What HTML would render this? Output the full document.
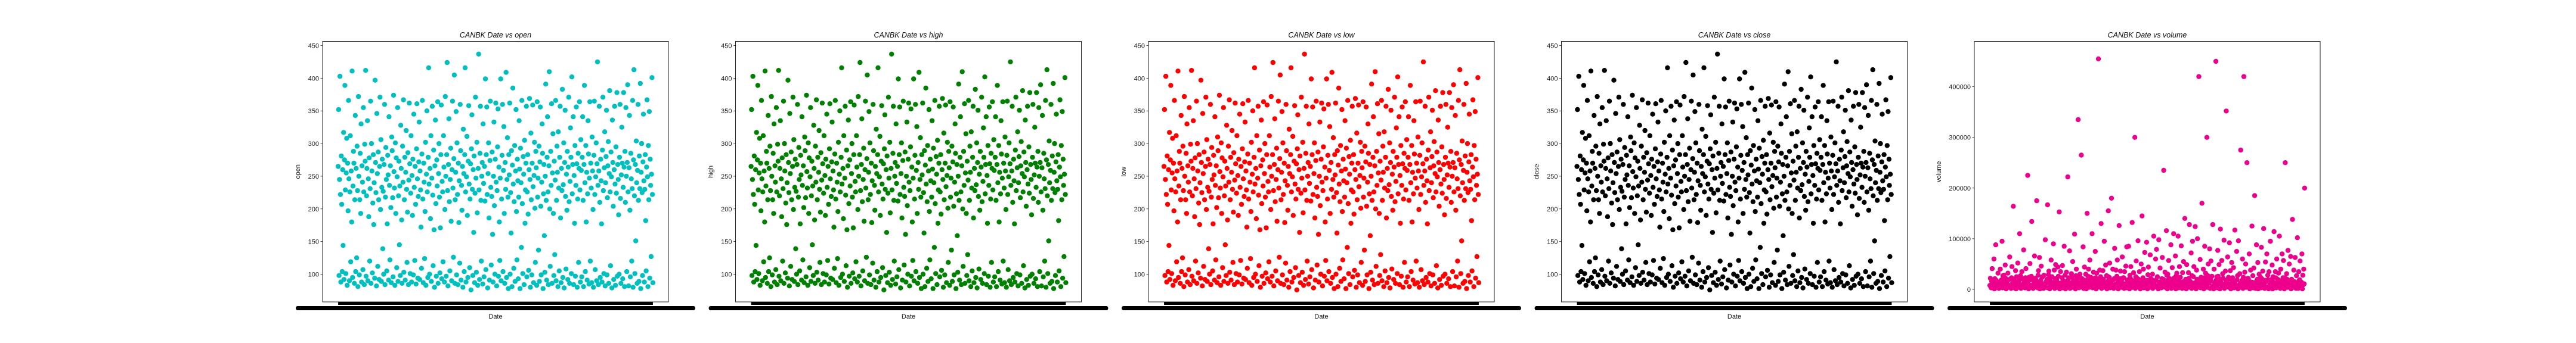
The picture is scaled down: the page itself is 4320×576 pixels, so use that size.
<!DOCTYPE html>
<html><head><meta charset="utf-8"><style>
html,body{margin:0;padding:0;background:#fff;}
svg{display:block;font-family:"Liberation Sans","DejaVu Sans",sans-serif;}
</style></head><body>
<svg id="fig" width="4320" height="576" viewBox="0 0 4320 576" xmlns="http://www.w3.org/2000/svg"></svg>
<script>
// Price values (shared shape across open/high/low/close panels)
const openVals=[265,352,98,245,403,222,88,281,207,104,260,144,317,92,275,389,229,101,255,308,
83,270,197,366,246,90,226,312,119,258,180,411,95,235,288,270,86,214,343,104,
262,125,296,228,81,372,250,99,214,285,193,330,88,266,241,107,355,226,84,299,
273,412,97,220,262,335,90,246,188,278,120,231,365,86,300,258,102,209,283,176,
240,94,397,271,225,82,346,254,112,287,214,92,265,371,199,306,89,233,276,139,
227,100,268,360,84,218,294,245,105,177,282,252,91,341,236,122,266,202,87,310,
289,217,96,374,257,232,83,301,193,278,110,249,355,89,220,273,145,235,98,328,
262,183,86,296,241,367,103,214,279,91,256,320,230,118,195,286,84,244,362,269,
101,224,312,88,251,190,276,99,345,233,121,265,207,85,292,361,246,94,219,272,
333,92,258,229,172,109,284,366,215,87,270,241,124,196,302,83,253,350,226,95,
279,416,238,100,262,185,312,89,247,357,221,113,290,168,80,266,336,208,97,275,
235,364,86,254,300,218,102,171,283,359,93,242,226,119,312,264,88,199,372,250,
97,283,424,228,82,268,338,211,105,245,293,181,90,260,365,232,126,277,405,86,
214,256,349,99,301,222,84,270,179,243,117,360,289,91,236,198,265,80,322,254,
104,283,416,226,88,249,311,190,95,273,358,238,110,215,269,76,292,344,230,98,
260,164,281,87,224,371,247,103,302,194,83,262,437,229,92,285,357,213,120,250,
271,85,330,239,96,265,212,399,107,283,356,222,79,254,301,186,91,274,365,233,
114,219,287,161,88,250,333,205,100,276,362,241,82,228,295,353,97,264,180,121,
247,399,90,215,282,360,104,259,326,193,86,271,230,409,95,245,309,218,78,283,
252,362,100,225,163,289,81,267,385,238,109,211,297,89,258,352,196,122,276,243,
93,218,335,261,78,293,240,141,366,208,101,280,253,84,305,178,229,270,357,96,
226,283,192,106,260,369,245,80,316,214,99,270,359,234,87,251,302,201,118,288,
263,83,364,218,247,137,296,89,272,356,204,99,241,330,285,78,223,268,159,103,
250,391,213,91,279,341,226,84,266,410,200,112,288,236,361,86,255,315,193,98,
273,130,244,366,90,213,296,256,81,318,232,105,279,357,186,87,262,228,383,95,
237,301,79,271,351,219,108,253,198,288,92,264,371,211,86,242,324,279,101,402,
223,268,341,84,251,178,297,97,236,356,269,80,215,285,118,262,364,229,88,306,
259,96,279,341,213,81,268,389,240,104,297,180,256,91,223,335,284,85,247,364,
120,270,232,87,310,258,199,80,282,365,222,107,249,301,90,269,425,236,84,258,
357,210,95,276,243,177,88,290,371,228,101,263,318,82,240,280,351,99,217,266,
303,86,254,381,226,113,287,249,79,336,271,204,92,260,357,238,83,295,224,378,
97,268,245,191,100,279,360,216,86,252,325,270,93,233,378,264,81,288,210,355,
250,104,271,390,226,82,263,343,198,96,285,246,120,231,366,80,275,413,220,101,
268,151,304,240,86,259,360,213,89,281,231,392,78,256,300,225,98,272,345,243,
88,230,283,182,105,264,367,249,81,297,214,349,94,276,236,127,253,401,222,87];
const highVals=openVals.slice();
const lowVals=openVals.slice();
const closeVals=openVals.slice();
// Volume in thousands of shares
const volumeK=[8,22,5,3,16,41,12,5,13,60,1,21,9,88,18,4,10,7,32,14,
2,14,11,40,6,18,19,95,3,27,10,28,16,5,48,22,1,15,13,9,
32,4,19,7,64,8,21,2,23,45,12,6,164,20,3,16,11,37,1,25,
15,7,52,12,4,18,110,10,27,2,8,35,9,21,5,78,14,19,3,23,
41,12,6,11,225,17,1,24,9,51,19,4,26,134,8,22,2,10,13,66,
5,22,19,7,175,15,3,28,37,11,63,1,14,18,46,6,24,25,10,2,
28,7,9,98,14,4,17,20,167,3,29,36,12,1,22,16,58,8,25,5,
13,90,11,38,2,21,49,7,20,15,4,44,26,10,153,1,11,35,13,6,
23,47,3,16,17,85,9,28,1,8,34,14,5,222,19,23,8,76,2,10,
12,31,24,4,55,16,18,7,109,11,1,27,40,20,6,26,335,13,3,13,
30,9,22,265,5,21,15,84,2,10,44,10,18,30,1,15,150,8,26,40,
4,19,58,12,24,7,9,110,3,21,34,14,16,6,75,23,1,32,10,20,
17,455,5,11,38,9,25,130,2,18,13,37,20,4,95,11,13,48,7,27,
1,26,16,155,8,24,52,3,15,12,180,6,9,40,19,2,21,81,10,22,
38,5,26,58,14,1,17,126,9,21,36,4,12,15,64,7,23,23,2,35,
8,11,46,3,84,18,19,6,85,13,1,28,22,45,8,10,132,4,17,33,
14,10,300,2,25,56,14,22,5,96,20,7,35,12,1,11,50,16,145,9,
23,40,3,18,73,11,7,6,93,18,1,29,44,13,13,4,68,21,8,20,
15,30,2,9,105,10,16,5,60,19,79,7,25,4,1,98,14,12,42,6,
6,3,21,63,12,20,235,8,15,34,4,17,116,28,1,30,11,57,22,6,
18,14,88,2,10,43,9,21,110,5,23,16,66,1,27,32,10,14,105,3,
19,45,7,24,12,86,4,2,33,15,55,6,11,140,11,20,1,49,18,9,
4,33,22,128,8,16,14,72,2,27,95,10,25,45,5,13,124,13,1,38,
20,100,6,18,420,11,8,59,3,24,17,170,7,11,40,1,23,85,15,32,
9,22,300,4,27,50,12,16,80,2,21,56,16,26,6,128,5,1,40,13,
13,8,450,19,25,3,77,26,11,49,20,1,119,14,12,57,5,31,22,10,
97,2,9,36,18,352,7,19,64,12,24,4,92,11,37,1,20,53,9,23,
15,43,3,15,117,11,8,5,75,19,27,1,96,3,8,31,12,275,13,6,
18,60,2,24,420,10,34,16,50,4,10,250,7,22,21,12,70,1,15,38,
6,8,125,14,27,3,42,13,185,11,2,5,88,18,20,53,1,9,30,9,
17,24,3,83,21,7,36,11,120,12,2,18,54,15,5,70,5,28,19,1,
35,7,10,95,4,16,20,48,1,25,14,114,8,10,35,23,3,60,12,20,
6,32,18,105,6,2,40,11,17,70,5,23,57,15,1,23,250,9,11,31,
20,4,77,13,13,50,7,8,65,1,20,16,138,4,6,38,12,15,63,3,
2,27,9,102,10,2,35,18,19,56,5,5,14,70,1,28,9,40,11,200];
const priceTicks=[100,150,200,250,300,350,400,450];
const volumeTicks=[0,100000,200000,300000,400000];
const panelTitles=["CANBK Date vs open","CANBK Date vs high","CANBK Date vs low","CANBK Date vs close","CANBK Date vs volume"];
const panelLabels=["open","high","low","close","volume"];

const NS="http://www.w3.org/2000/svg";
const svg=document.getElementById('fig');
function mk(tag,attrs,parent){const e=document.createElementNS(NS,tag);for(const k in attrs)e.setAttribute(k,attrs[k]);(parent||svg).appendChild(e);return e;}

const TOP=69.5,BOT=507,W=580;
const panels=[
 {left:541,vals:openVals,scale:1,color:"#00bfbf",ymin:57.6,ymax:456.4,ticks:priceTicks,lab:-38},
 {left:1233.5,vals:highVals,scale:1,color:"#008000",ymin:57.6,ymax:456.4,ticks:priceTicks,lab:-38},
 {left:1926,vals:lowVals,scale:1,color:"#ff0000",ymin:57.6,ymax:456.4,ticks:priceTicks,lab:-38},
 {left:2618.5,vals:closeVals,scale:1,color:"#000000",ymin:57.6,ymax:456.4,ticks:priceTicks,lab:-38},
 {left:3311,vals:volumeK,scale:1000,color:"#ec008c",ymin:-24700,ymax:489400,ticks:volumeTicks,lab:-56}
];
panels.forEach((p,pi)=>{
  const g=mk('g',{});
  
  
  const n=p.vals.length;
  const x0=p.left+W*0.045,x1=p.left+W*0.955;
  const xs=i=>x0+(x1-x0)*i/(n-1);
  const ys=v=>BOT-(v-p.ymin)/(p.ymax-p.ymin)*(BOT-TOP);
  const pg=mk('g',{fill:p.color},g);
  
  
  p.vals.forEach((v,i)=>{
    const c=mk('circle',{cx:xs(i).toFixed(1),cy:ys(v*p.scale).toFixed(1),r:4.2},pg);
    
    
  });
  const fr=mk('rect',{x:p.left,y:TOP,width:W,height:BOT-TOP,fill:"none",stroke:"#222",'stroke-width':1},g);
  
  
  p.ticks.forEach(t=>{
    const y=ys(t);
    mk('line',{x1:p.left-3.5,x2:p.left,y1:y,y2:y,stroke:"#222",'stroke-width':0.8},g);
    const tx=mk('text',{x:p.left-6,y:y+4,'font-size':11,'text-anchor':'end',fill:"#222"},g);
    tx.textContent=String(t);
    
    
  });
  const b1=mk('rect',{x:x0,y:507,width:x1-x0,height:5,fill:"#000"},g);
  
  
  const b2=mk('rect',{x:x0-71,y:514,width:x1-x0+142,height:7,rx:3,fill:"#000"},g);
  
  
  const ti=mk('text',{x:p.left+W/2,y:63,'font-size':12.5,'font-style':'italic','text-anchor':'middle',fill:"#111"},g);
  ti.textContent=panelTitles[pi];
  
  
  const xl=mk('text',{x:p.left+W/2,y:535,'font-size':11,'text-anchor':'middle',fill:"#111"},g);
  xl.textContent="Date";
  
  
  const yx=p.left+p.lab, yy=(TOP+BOT)/2;
  const yl=mk('text',{x:yx,y:yy,'font-size':11,'text-anchor':'middle',fill:"#111",transform:`rotate(-90 ${yx} ${yy})`},g);
  yl.textContent=panelLabels[pi];
  
  
});
</script>
</body></html>
